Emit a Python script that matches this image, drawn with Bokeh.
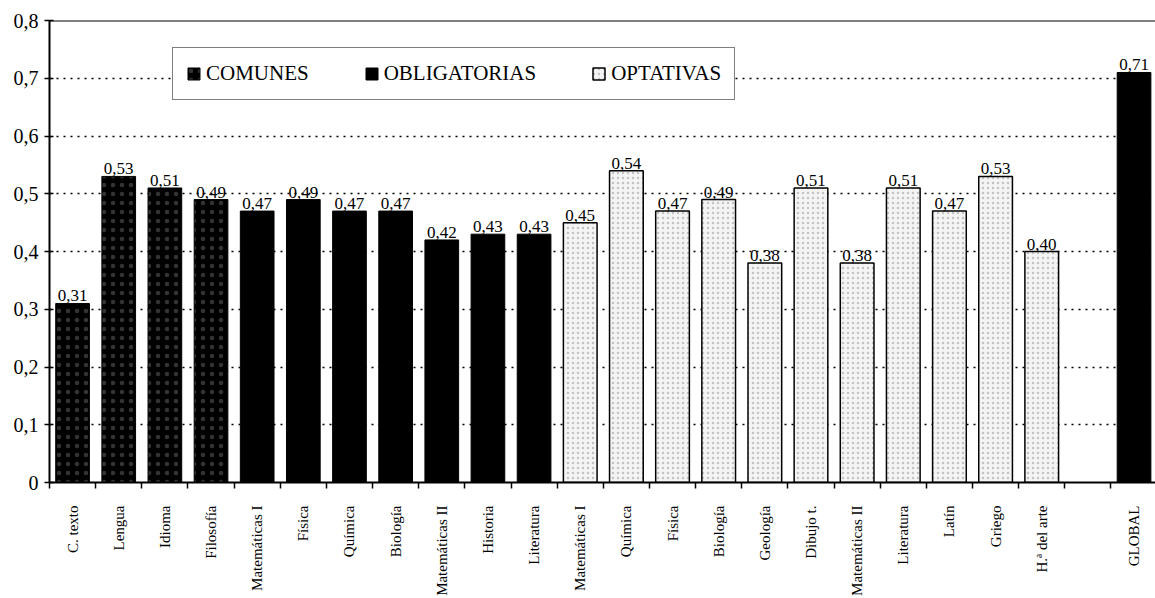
import math
from bokeh.plotting import figure
from bokeh.models import Range1d, FixedTicker, Span, Legend, LegendItem
from bokeh.core.properties import value
from bokeh.embed import file_html
from bokeh.resources import INLINE

# ---- data ----
comunes_names = ["C. texto", "Lengua", "Idioma", "Filosofía"]
comunes_vals = [0.31, 0.53, 0.51, 0.49]
oblig_names = ["Matemáticas I", "Física", "Química", "Biología", "Matemáticas II", "Historia", "Literatura"]
oblig_vals = [0.47, 0.49, 0.47, 0.47, 0.42, 0.43, 0.43]
opt_names = ["Matemáticas I", "Química", "Física", "Biología", "Geología", "Dibujo t.",
             "Matemáticas II", "Literatura", "Latín", "Griego", "H.ª del arte"]
opt_vals = [0.45, 0.54, 0.47, 0.49, 0.38, 0.51, 0.38, 0.51, 0.47, 0.53, 0.40]
global_name = "GLOBAL"
global_val = 0.71
y_ticks = [0.0, 0.1, 0.2, 0.3, 0.4, 0.5, 0.6, 0.7, 0.8]
y_tick_labels = ["0", "0,1", "0,2", "0,3", "0,4", "0,5", "0,6", "0,7", "0,8"]
legend_labels = ["COMUNES", "OBLIGATORIAS", "OPTATIVAS"]

FONT = "Liberation Serif"

# slot positions (one empty slot before GLOBAL)
n_com, n_obl, n_opt = len(comunes_names), len(oblig_names), len(opt_names)
x_com = [i + 0.5 for i in range(n_com)]
x_obl = [n_com + i + 0.5 for i in range(n_obl)]
x_opt = [n_com + n_obl + i + 0.5 for i in range(n_opt)]
n_slots = n_com + n_obl + n_opt + 2
x_glob = [n_slots - 0.5]

p = figure(width=1155, height=598, x_range=Range1d(0, 23.965), y_range=Range1d(0, 0.8),
           output_backend="svg", toolbar_location=None,
           min_border_left=49, min_border_right=0, min_border_top=20, min_border_bottom=113)
p.outline_line_color = None
p.background_fill_color = "white"

# grid
p.xgrid.visible = False
p.ygrid.ticker = FixedTicker(ticks=y_ticks[1:-1])
p.ygrid.grid_line_color = "black"
p.ygrid.grid_line_dash = "2 5"
p.ygrid.grid_line_width = 1.3

# top frame line
p.add_layout(Span(location=0.8, dimension="width", line_color="black", line_width=2))

W = 0.73
r_com = p.vbar(x=x_com, top=comunes_vals, width=W, fill_color="black", line_color="black",
               hatch_pattern="dot", hatch_color="white", hatch_scale=9, hatch_weight=1, hatch_alpha=0.2)
r_obl = p.vbar(x=x_obl, top=oblig_vals, width=W, fill_color="black", line_color="black")
r_opt = p.vbar(x=x_opt, top=opt_vals, width=W, fill_color="#f4f4f4", line_color="black", line_width=1.5,
               hatch_pattern="dot", hatch_color="#999999", hatch_scale=5, hatch_weight=1, hatch_alpha=0.55)
r_glob = p.vbar(x=x_glob, top=[global_val], width=W, fill_color="black", line_color="black")

# value labels
all_x = x_com + x_obl + x_opt + x_glob
all_v = comunes_vals + oblig_vals + opt_vals + [global_val]
p.text(x=all_x, y=all_v, text=[f"{v:.2f}".replace(".", ",") for v in all_v],
       text_align="center", text_baseline="bottom", y_offset=-2,
       text_font=value(FONT), text_font_size="17px", text_color="black")

# legend
legend = Legend(items=[LegendItem(label=legend_labels[0], renderers=[r_com]),
                       LegendItem(label=legend_labels[1], renderers=[r_obl]),
                       LegendItem(label=legend_labels[2], renderers=[r_opt])],
                orientation="horizontal", location=(123, 382),
                label_text_font=FONT, label_text_font_size="21px", label_text_color="black",
                glyph_width=15, glyph_height=15, label_standoff=5, spacing=55, padding=13,
                border_line_color="black", border_line_width=1.5, background_fill_alpha=1.0,
                margin=0)
p.add_layout(legend)

# y axis
p.yaxis.ticker = FixedTicker(ticks=y_ticks, minor_ticks=[])
p.yaxis.major_label_overrides = {t: l for t, l in zip(y_ticks, y_tick_labels)}
p.yaxis.major_label_text_font = FONT
p.yaxis.major_label_text_font_size = "20px"
p.yaxis.major_label_text_color = "black"
p.yaxis.axis_line_color = "black"
p.yaxis.axis_line_width = 2
p.yaxis.major_tick_line_color = "black"
p.yaxis.major_tick_line_width = 1.5
p.yaxis.major_tick_in = 4
p.yaxis.major_tick_out = 5
p.yaxis.major_label_standoff = 6

# x axis (labels read bottom-to-top, ticks between bars)
x_names = comunes_names + oblig_names + opt_names + [global_name]
x_pos = x_com + x_obl + x_opt + x_glob
p.xaxis.ticker = FixedTicker(ticks=x_pos, minor_ticks=list(range(n_slots + 1)))
p.xaxis.major_label_overrides = {x: n for x, n in zip(x_pos, x_names)}
p.xaxis.major_label_orientation = math.pi / 2
p.xaxis.major_label_text_font = FONT
p.xaxis.major_label_text_font_size = "15px"
p.xaxis.major_label_text_color = "black"
p.xaxis.major_label_standoff = 17
p.xaxis.major_tick_in = 0
p.xaxis.major_tick_out = 0
p.xaxis.minor_tick_in = 0
p.xaxis.minor_tick_out = 6
p.xaxis.minor_tick_line_color = "black"
p.xaxis.minor_tick_line_width = 1.5
p.xaxis.axis_line_color = "black"
p.xaxis.axis_line_width = 2

open("out.html", "w").write(file_html(p, INLINE))
